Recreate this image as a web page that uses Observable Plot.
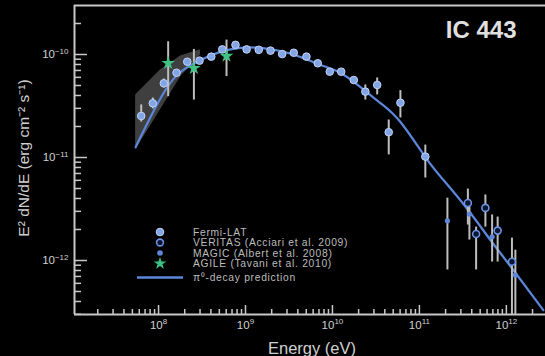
<!DOCTYPE html>
<html><head><meta charset="utf-8">
<script src="https://cdn.jsdelivr.net/npm/d3@7"></script>
<script src="https://cdn.jsdelivr.net/npm/@observablehq/plot@0.6"></script>
<style>
html,body{margin:0;padding:0;background:#000;}
#wrap{position:relative;width:545px;height:356px;overflow:hidden;background:#000;}
#legend{position:absolute;left:0;top:0;}
</style></head><body><div id="wrap"></div>
<script>
// ---- data (energy in eV, E^2 dN/dE in erg cm^-2 s^-1) ----
const fermiE  = [6.32e7, 8.59e7, 1.15e8, 1.61e8, 2.14e8, 2.96e8, 4.04e8, 5.40e8, 7.67e8, 1.03e9, 1.42e9, 1.94e9,
                 2.64e9, 3.59e9, 5.02e9, 6.78e9, 9.31e9, 1.26e10, 1.76e10, 2.39e10, 3.27e10, 4.44e10, 6.05e10, 1.17e11];
const fermiF  = [2.53e-11, 3.36e-11, 5.25e-11, 6.65e-11, 8.51e-11, 8.71e-11, 9.53e-11, 1.12e-10, 1.24e-10, 1.12e-10, 1.11e-10, 1.09e-10,
                 1.01e-10, 1.04e-10, 9.53e-11, 8.22e-11, 6.81e-11, 6.81e-11, 5.65e-11, 4.36e-11, 5.06e-11, 1.76e-11, 3.40e-11, 1.02e-11];
const fermiLo = [2.21e-11, 2.96e-11, 4.73e-11, null, null, null, null, null, null, null, null, null,
                 null, null, null, null, null, null, null, 3.61e-11, 4.05e-11, 1.06e-11, 2.42e-11, 6.32e-12];
const fermiHi = [3.24e-11, 3.78e-11, 5.78e-11, null, null, null, null, null, null, null, null, null,
                 null, null, null, null, null, null, null, 5.06e-11, 5.92e-11, 2.31e-11, 4.46e-11, 1.32e-11];

const veritasE  = [3.61e11, 4.49e11, 5.74e11, 7.94e11, 1.16e12];
const veritasF  = [3.61e-12, 1.81e-12, 3.24e-12, 1.95e-12, 9.73e-13];
const veritasLo = [2.21e-12, 8.09e-13, 2.11e-12, 9.66e-13, 2.5e-13];
const veritasHi = [4.94e-12, 2.11e-12, 4.33e-12, 2.64e-12, 1.65e-12];

const magicE  = [2.10e11, 3.76e11, 6.86e11, 1.27e12];
const magicF  = [2.43e-12, 2.82e-12, 1.70e-12, 7.23e-13];
const magicLo = [8.09e-13, 1.58e-12, 9.66e-13, 2.5e-13];
const magicHi = [4.03e-12, 3.86e-12, 2.77e-12, 1.26e-12];

const agileE  = [1.29e8, 2.55e8, 6.05e8];
const agileF  = [8.22e-11, 7.35e-11, 9.66e-11];
const agileLo = [3.89e-11, 3.61e-11, 6.10e-11];
const agileHi = [1.33e-10, 1.12e-10, 1.38e-10];

const modelE = [5.45e7, 8.09e7, 1.20e8, 1.79e8, 3.04e8, 5.16e8, 8.77e8, 1.49e9, 2.52e9, 4.29e9, 7.28e9,
                1.24e10, 2.10e10, 3.56e10, 6.05e10, 1.17e11, 1.89e11, 3.56e11, 6.55e11, 1.11e12, 2.66e12];
const modelF = [1.26e-11, 2.47e-11, 4.52e-11, 6.76e-11, 8.85e-11, 1.06e-10, 1.16e-10, 1.16e-10, 1.08e-10, 9.46e-11, 7.91e-11,
                6.61e-11, 4.83e-11, 3.38e-11, 2.21e-11, 1.01e-11, 6.05e-12, 3.16e-12, 1.58e-12, 8.85e-13, 3.30e-13];

const bandE  = [5.45e7, 1.05e8, 1.79e8, 3.04e8];
const bandLo = [1.18e-11, 2.89e-11, 6.03e-11, 9.89e-11];
const bandHi = [4.05e-11, 7.08e-11, 9.66e-11, 1.11e-10];

const xMajor = [1e8, 1e9, 1e10, 1e11, 1e12];
const yMajor = [1e-12, 1e-11, 1e-10];
const xDomain = [1.08e7, 2.82e12];
const yDomain = [2.99e-13, 2.99e-10];

const legendLabels = ["Fermi-LAT", "VERITAS (Acciari et al. 2009)", "MAGIC (Albert et al. 2008)", "AGILE (Tavani et al. 2010)", "π⁰-decay prediction"];
const titleText = "IC 443";
const xTitle = "Energy (eV)";
const yTitle = "E² dN/dE (erg cm⁻² s⁻¹)";

// ---- build tables ----
const zip = (E, F, Lo, Hi) => E.map((e, i) => ({e, f: F[i], lo: Lo ? Lo[i] : null, hi: Hi ? Hi[i] : null}));
const fermi = zip(fermiE, fermiF, fermiLo, fermiHi);
const veritas = zip(veritasE, veritasF, veritasLo, veritasHi);
const magic = zip(magicE, magicF, magicLo, magicHi);
const agile = zip(agileE, agileF, agileLo, agileHi);
const model = modelE.map((e, i) => ({e, f: modelF[i]}));
const band = bandE.map((e, i) => ({e, lo: bandLo[i], hi: bandHi[i]}));
const errs = [...fermi, ...veritas, ...magic, ...agile].filter(d => d.lo != null && d.hi != null);

function minors(lo, hi, kmin, kmax) {
  const out = [];
  for (let k = kmin; k <= kmax; k++) for (let m = 2; m <= 9; m++) {
    const v = m * Math.pow(10, k);
    if (v > lo && v < hi) out.push(v);
  }
  return out;
}
const xMinor = minors(xDomain[0], xDomain[1], 7, 12);
const yMinor = minors(yDomain[0], yDomain[1], -13, -10);

const axisColor = "#c8c8c8";
const textColor = "#d0d0d0";
const font = "'Liberation Sans', Arial, Helvetica, sans-serif";
const fmt = d => "10^" + Math.round(Math.log10(d));

const plot = Plot.plot({
  width: 545, height: 356,
  marginLeft: 74, marginTop: 5, marginBottom: 42, marginRight: 0,
  style: {background: "#000", color: textColor, fontFamily: font, fontSize: "11.5px"},
  x: {type: "log", domain: xDomain, axis: null},
  y: {type: "log", domain: yDomain, axis: null},
  marks: [
    Plot.areaY(band, {x: "e", y1: "lo", y2: "hi", fill: "#4a4a4a", fillOpacity: 0.85}),
    Plot.line(model, {x: "e", y: "f", stroke: "#5d87da", strokeWidth: 2.2, curve: "natural", clip: true}),
    Plot.ruleX(errs, {x: "e", y1: "lo", y2: "hi", stroke: "#bdbdbd", strokeWidth: 2, clip: true}),
    Plot.dot(fermi, {x: "e", y: "f", r: 3.8, fill: "#82a5e6", stroke: "#c3d3f5", strokeWidth: 1}),
    Plot.dot(veritas, {x: "e", y: "f", r: 3.5, fill: "#0b1430", stroke: "#6c93e3", strokeWidth: 1.6}),
    Plot.dot(magic, {x: "e", y: "f", r: 2.6, fill: "#5f86d8"}),
    Plot.dot(agile, {x: "e", y: "f", r: 4.3, symbol: "star", fill: "#3fc283"}),
    // frame
    Plot.ruleX([xDomain[0]], {x: d => d, stroke: axisColor, strokeWidth: 2}),
    Plot.ruleY([yDomain[0], yDomain[1]], {y: d => d, stroke: axisColor, strokeWidth: 2}),
    // inward ticks
    Plot.ruleX(xMinor, {x: d => d, y1: yDomain[0], y2: yDomain[0], insetTop: -5, stroke: axisColor, strokeWidth: 1.5}),
    Plot.ruleX(xMajor, {x: d => d, y1: yDomain[0], y2: yDomain[0], insetTop: -9, stroke: axisColor, strokeWidth: 1.5}),
    Plot.ruleY(yMinor, {y: d => d, x1: xDomain[0], x2: xDomain[0], insetRight: -7, stroke: axisColor, strokeWidth: 1.5}),
    Plot.ruleY(yMajor, {y: d => d, x1: xDomain[0], x2: xDomain[0], insetRight: -13, stroke: axisColor, strokeWidth: 1.5}),
    // tick labels
    Plot.axisX(xMajor, {label: null, tickSize: 0, tickPadding: 6, tickFormat: fmt, fill: textColor, fontSize: 11.5}),
    Plot.axisY(yMajor, {label: null, tickSize: 0, tickPadding: 6, tickFormat: fmt, fill: textColor, fontSize: 11.5}),
    // titles
    Plot.text([xTitle], {frameAnchor: "bottom", dx: 2, dy: 39, lineAnchor: "bottom", textAnchor: "middle", text: d => d, fill: textColor, fontSize: 16.5}),
    Plot.text([titleText], {frameAnchor: "top-right", dx: -29, dy: 32, lineAnchor: "bottom", textAnchor: "end", text: d => d, fill: "#e0e0e0", fontSize: 24, fontWeight: "bold"})
  ]
});

// superscript exponents in tick labels
d3.select(plot).selectAll('g[aria-label$="tick label"] text').each(function() {
  const t = this.textContent;
  const m = /^10\^(.*)$/.exec(t);
  if (!m) return;
  const sel = d3.select(this);
  sel.text("10");
  sel.append("tspan").attr("dy", "-0.55em").attr("font-size", "8px").text(m[1].replace("-", "−"));
});

const wrap = document.getElementById("wrap");
wrap.appendChild(plot);

// overlay: y title and legend
const lg = d3.select(wrap).append("svg").attr("id", "legend").attr("width", 545).attr("height", 356);
lg.append("text")
  .attr("transform", "translate(24,158) rotate(-90)")
  .attr("text-anchor", "middle").attr("dy", "0.35em")
  .attr("font-family", font).attr("font-size", "15.5px").attr("fill", textColor)
  .text(yTitle);

const rows = [232, 242.5, 253, 263.5, 277.5];
const g = lg.append("g").attr("font-family", font).attr("font-size", "10.3px").attr("letter-spacing", "0.7px").attr("fill", "#bcbcbc");
legendLabels.forEach((lab, i) => {
  g.append("text").attr("x", 193).attr("y", rows[i]).attr("dy", "0.35em").text(lab);
});
lg.append("circle").attr("cx", 160).attr("cy", rows[0]).attr("r", 3.8).attr("fill", "#82a5e6").attr("stroke", "#c3d3f5");
lg.append("circle").attr("cx", 160).attr("cy", rows[1]).attr("r", 3.4).attr("fill", "#0b1430").attr("stroke", "#6c93e3").attr("stroke-width", 1.6);
lg.append("circle").attr("cx", 160).attr("cy", rows[2]).attr("r", 2.8).attr("fill", "#5f86d8");
lg.append("path").attr("d", d3.symbol(d3.symbolStar, 50)()).attr("transform", `translate(160,${rows[3]})`).attr("fill", "#3fc283");
lg.append("line").attr("x1", 137).attr("x2", 183).attr("y1", rows[4]).attr("y2", rows[4]).attr("stroke", "#5d87da").attr("stroke-width", 2.4);
</script>
</body></html>
